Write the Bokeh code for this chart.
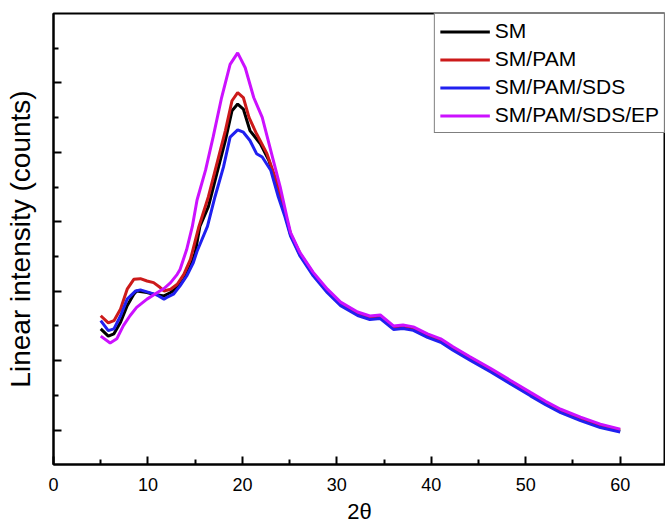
from bokeh.plotting import figure
from bokeh.models import Range1d, FixedTicker, Legend, LegendItem
from bokeh.embed import file_html
from bokeh.resources import INLINE

# ---- data (2θ in degrees, intensity in arbitrary counts) ----
tail_x = [25.1, 26.1, 27.5, 29.0, 30.4, 32.2, 33.5, 34.6, 36.0, 37.0, 38.1, 39.6, 41.0,
          42.3, 44.1, 46.3, 48.4, 50.5, 52.1, 53.7, 55.8, 57.9, 60.0]

x_sm = [5.0, 5.8, 6.4, 7.1, 7.8, 8.5, 8.8, 9.9, 10.6, 11.7, 12.4, 13.1, 13.8, 14.5, 15.0,
        15.5, 16.4, 17.3, 18.2, 18.9, 19.5, 20.1, 20.8, 21.9, 22.8, 23.8, 24.4] + tail_x
y_sm = [2457, 2353, 2386, 2553, 2790, 2957, 3004, 2981, 2957, 2933, 2981, 3053, 3171, 3361, 3553,
        3933, 4219, 4696, 5171, 5600, 5696, 5624, 5314, 5124, 4886, 4457, 4171,
        3814, 3528, 3242, 3000, 2814, 2671, 2614, 2628, 2471, 2485, 2457, 2357, 2285,
        2171, 2028, 1857, 1685, 1514, 1385, 1271, 1157, 1057, 985]

x_pam = [5.0, 5.8, 6.4, 7.1, 7.8, 8.5, 9.2, 9.9, 10.6, 11.3, 11.7, 12.4, 13.1, 13.8, 14.5,
         15.4, 16.4, 17.3, 18.2, 18.9, 19.5, 20.1, 20.7, 21.5, 22.6, 23.7, 24.2] + tail_x
y_pam = [2647, 2543, 2576, 2743, 3029, 3171, 3181, 3147, 3124, 3053, 3004, 3029, 3100, 3243, 3457,
         3933, 4361, 4839, 5314, 5743, 5861, 5790, 5504, 5267, 4981, 4553, 4267,
         3829, 3543, 3257, 3015, 2829, 2686, 2629, 2643, 2486, 2500, 2472, 2372, 2300,
         2186, 2043, 1872, 1700, 1529, 1400, 1286, 1172, 1072, 1000]

x_sds = [5.0, 5.8, 6.4, 7.1, 7.8, 8.7, 9.2, 9.9, 11.0, 11.7, 12.0, 12.7, 13.4, 14.1, 14.8,
         15.2, 16.3, 17.1, 18.0, 18.7, 19.5, 20.1, 20.8, 21.5, 22.1, 23.0, 23.8, 24.5] + tail_x
y_sds = [2576, 2433, 2457, 2647, 2886, 3004, 3019, 2990, 2943, 2886, 2910, 2957, 3076, 3219, 3410,
         3576, 3933, 4361, 4790, 5219, 5324, 5290, 5171, 4981, 4933, 4743, 4361, 4076,
         3793, 3507, 3221, 2979, 2793, 2650, 2593, 2607, 2450, 2464, 2436, 2336, 2264,
         2150, 2007, 1836, 1664, 1493, 1364, 1250, 1136, 1036, 971]

x_ep = [5.0, 6.0, 6.7, 7.4, 8.1, 8.8, 9.9, 11.0, 11.7, 12.4, 13.1, 13.4, 14.1, 14.7, 15.2,
        16.1, 16.9, 17.8, 18.7, 19.5, 20.3, 21.2, 22.1, 23.0, 24.0, 24.7] + tail_x
y_ep = [2353, 2253, 2314, 2504, 2647, 2767, 2886, 2981, 3039, 3124, 3243, 3314, 3600, 3933, 4314,
        4743, 5219, 5790, 6267, 6433, 6219, 5790, 5504, 5029, 4504, 4076,
        3843, 3557, 3271, 3029, 2843, 2700, 2643, 2657, 2500, 2514, 2486, 2386, 2314,
        2200, 2057, 1886, 1714, 1543, 1414, 1300, 1186, 1086, 1014]

series_names = ["SM", "SM/PAM", "SM/PAM/SDS", "SM/PAM/SDS/EP"]
series_colors = ["#000000", "#CC1A1A", "#2020F0", "#CC11FF"]

x_major = [0, 10, 20, 30, 40, 50, 60]
x_minor = [5, 15, 25, 35, 45, 55]
y_major = [1000, 2000, 3000, 4000, 5000, 6000]
y_minor = [1500, 2500, 3500, 4500, 5500, 6500]

FONT = "Liberation Sans"

p = figure(width=665, height=526, output_backend="svg", toolbar_location=None,
           x_range=Range1d(0, 64.8), y_range=Range1d(504, 7000),
           min_border_left=53, min_border_right=0, min_border_top=13, min_border_bottom=59)

p.xgrid.visible = False
p.ygrid.visible = False
p.outline_line_color = "#000000"
p.outline_line_width = 2

renderers = []
for xs, ys, c in zip([x_sm, x_pam, x_sds, x_ep], [y_sm, y_pam, y_sds, y_ep], series_colors):
    r = p.line(xs, ys, line_color=c, line_width=3)
    renderers.append(r)

# x axis
p.xaxis.ticker = FixedTicker(ticks=x_major, minor_ticks=x_minor)
p.xaxis.axis_label = "2θ"
p.xaxis.axis_label_text_font = FONT
p.xaxis.axis_label_text_font_style = "normal"
p.xaxis.axis_label_text_font_size = "22px"
p.xaxis.axis_label_standoff = 5
p.xaxis.major_label_text_font = FONT
p.xaxis.major_label_text_font_size = "18px"
p.xaxis.major_label_standoff = 13

# y axis (no tick labels in the reference)
p.yaxis.ticker = FixedTicker(ticks=y_major, minor_ticks=y_minor)
p.yaxis.axis_label = "Linear intensity (counts)"
p.yaxis.axis_label_text_font = FONT
p.yaxis.axis_label_text_font_style = "normal"
p.yaxis.axis_label_text_font_size = "28px"
p.yaxis.axis_label_standoff = 18
p.yaxis.major_label_overrides = {v: "" for v in y_major}
p.yaxis.major_label_standoff = 0

for ax in (p.xaxis, p.yaxis):
    ax.axis_line_color = "#000000"
    ax.axis_line_width = 2
    ax.major_tick_line_color = "#000000"
    ax.major_tick_line_width = 2
    ax.minor_tick_line_color = "#000000"
    ax.minor_tick_line_width = 2
    ax.major_tick_in = 8
    ax.major_tick_out = 0
    ax.minor_tick_in = 5
    ax.minor_tick_out = 0
    ax.major_label_text_color = "#000000"
    ax.axis_label_text_color = "#000000"

legend = Legend(items=[LegendItem(label=n, renderers=[r]) for n, r in zip(series_names, renderers)],
                location="top_right")
legend.margin = 0
legend.padding = 5
legend.spacing = 4
legend.glyph_width = 50
legend.glyph_height = 21
legend.label_height = 21
legend.label_standoff = 5
legend.label_text_font = FONT
legend.label_text_font_size = "21px"
legend.label_text_color = "#000000"
legend.border_line_color = "#000000"
legend.border_line_width = 1
legend.background_fill_alpha = 1
p.add_layout(legend)

open("out.html", "w").write(file_html(p, INLINE))
